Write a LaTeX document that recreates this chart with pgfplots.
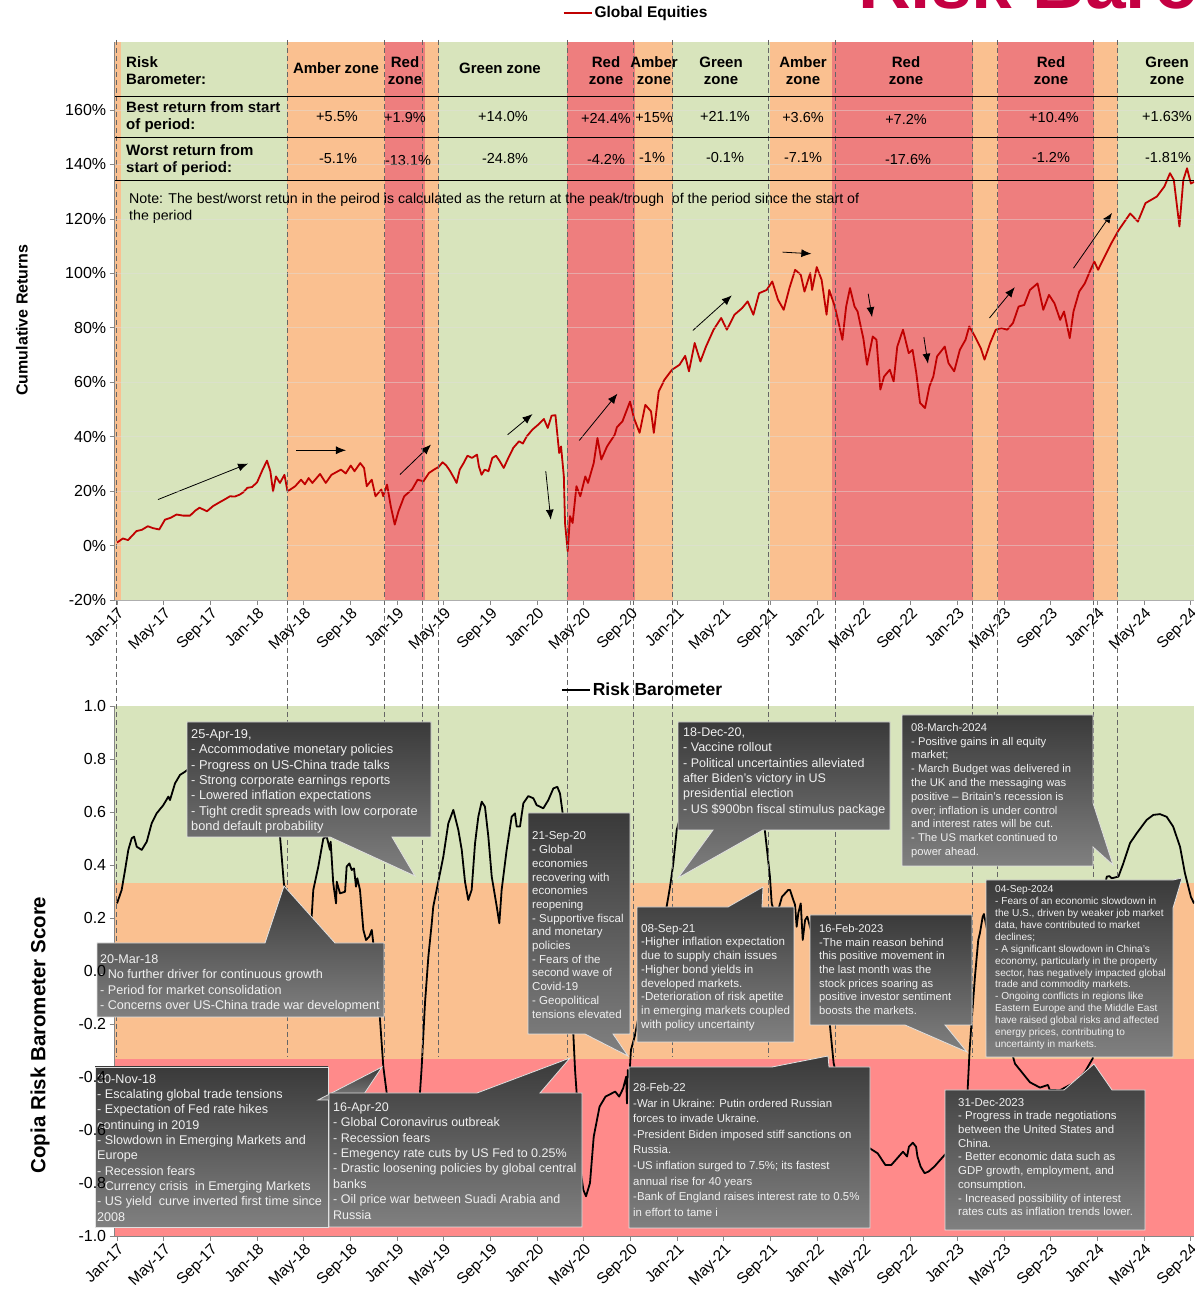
\documentclass[border=0pt]{standalone}
\usepackage{fontspec}
\setmainfont{Liberation Sans}
\usepackage{pgfplots}
\pgfplotsset{compat=1.18}
\usetikzlibrary{arrows.meta}

\definecolor{zgreen}{RGB}{216,228,188}
\definecolor{zamber}{RGB}{250,192,144}
\definecolor{zred}{RGB}{238,126,126}
\definecolor{bred}{RGB}{255,138,138}
\definecolor{eqred}{RGB}{192,0,0}
\definecolor{titlered}{RGB}{196,0,66}
\definecolor{cdark}{RGB}{58,58,58}
\definecolor{clight}{RGB}{128,128,128}
\definecolor{ctext}{RGB}{240,240,240}
\definecolor{axgray}{RGB}{134,134,134}

\newcommand{\fs}[2]{\fontsize{#1}{#2}\selectfont}
\newcommand{\callout}[4]{%
  \shade[top color=cdark, bottom color=clight, draw=white!88!black, line width=0.8pt] #1;
  \node[anchor=north west, inner sep=0pt, align=left, text=ctext, font=#3] at #2 {#4};}

\pgfplotsset{layers/mylayers/.define layer set={axis background,axis ticks,axis lines,main,axis grid,axis tick labels,axis descriptions,axis foreground}{
  grid style={/pgfplots/on layer=axis grid},
  tick style={/pgfplots/on layer=axis ticks},
  axis line style={/pgfplots/on layer=axis lines},
  label style={/pgfplots/on layer=axis descriptions},
  legend style={/pgfplots/on layer=axis descriptions},
  title style={/pgfplots/on layer=axis descriptions},
  ticklabel style={/pgfplots/on layer=axis tick labels},
}}

\pgfplotsset{common/.style={
  scale only axis, width=1079.5pt, xmin=-0.2, xmax=92.3,
  xtick={0,4,...,92},
  xticklabels={Jan-17,May-17,Sep-17,Jan-18,May-18,Sep-18,Jan-19,May-19,Sep-19,Jan-20,May-20,Sep-20,Jan-21,May-21,Sep-21,Jan-22,May-22,Sep-22,Jan-23,May-23,Sep-23,Jan-24,May-24,Sep-24},
  axis x line=bottom, axis y line=left, axis line style={-, axgray, line width=0.8pt},
  tick align=outside, major tick length=5pt, tick style={axgray, line width=0.8pt},
  xticklabel style={rotate=45, anchor=north east, inner sep=1pt, font=\fs{15.5}{18}},
  yticklabel style={font=\fs{16}{19}},
  legend style={draw=none, fill=none, inner sep=0pt},
  legend image code/.code={\draw[##1] (0pt,0pt) -- (28pt,0pt);},
}}
\tikzset{arr/.style={-{Latex[length=10pt,width=8pt]}, line width=0.8pt}}

\begin{document}
\begin{tikzpicture}[x=1pt,y=1pt]
\pgfplotsset{set layers=mylayers}

% ---------------- TOP AXIS ----------------
\begin{axis}[common, at={(114.67pt,690pt)}, anchor=south west, height=558pt,
  ymin=-20, ymax=185, ytick={-20,0,20,40,60,80,100,120,140,160},
  yticklabels={-20\%,0\%,20\%,40\%,60\%,80\%,100\%,120\%,140\%,160\%},
  ymajorgrids, grid style={white!75!gray, opacity=0.45, line width=0.6pt},
  legend style={at={(0.483,1.052)}, anchor=center, font=\bfseries\fs{15.5}{18}}]
\addplot[fill=zamber, draw=none, forget plot] coordinates {(-0.2,-20) (-0.2,185) (0.34,185) (0.34,-20)} -- cycle;
\addplot[fill=zgreen, draw=none, forget plot] coordinates {(0.34,-20) (0.34,185) (14.6,185) (14.6,-20)} -- cycle;
\addplot[fill=zamber, draw=none, forget plot] coordinates {(14.6,-20) (14.6,185) (23.0,185) (23.0,-20)} -- cycle;
\addplot[fill=zred, draw=none, forget plot] coordinates {(23.0,-20) (23.0,185) (26.35,185) (26.35,-20)} -- cycle;
\addplot[fill=zamber, draw=none, forget plot] coordinates {(26.35,-20) (26.35,185) (27.57,185) (27.57,-20)} -- cycle;
\addplot[fill=zgreen, draw=none, forget plot] coordinates {(27.57,-20) (27.57,185) (38.56,185) (38.56,-20)} -- cycle;
\addplot[fill=zred, draw=none, forget plot] coordinates {(38.56,-20) (38.56,185) (44.35,185) (44.35,-20)} -- cycle;
\addplot[fill=zamber, draw=none, forget plot] coordinates {(44.35,-20) (44.35,185) (47.64,185) (47.64,-20)} -- cycle;
\addplot[fill=zgreen, draw=none, forget plot] coordinates {(47.64,-20) (47.64,185) (55.96,185) (55.96,-20)} -- cycle;
\addplot[fill=zamber, draw=none, forget plot] coordinates {(55.96,-20) (55.96,185) (61.27,185) (61.27,-20)} -- cycle;
\addplot[fill=zred, draw=none, forget plot] coordinates {(61.27,-20) (61.27,185) (73.35,185) (73.35,-20)} -- cycle;
\addplot[fill=zamber, draw=none, forget plot] coordinates {(73.35,-20) (73.35,185) (75.5,185) (75.5,-20)} -- cycle;
\addplot[fill=zred, draw=none, forget plot] coordinates {(75.5,-20) (75.5,185) (83.7,185) (83.7,-20)} -- cycle;
\addplot[fill=zamber, draw=none, forget plot] coordinates {(83.7,-20) (83.7,185) (85.8,185) (85.8,-20)} -- cycle;
\addplot[fill=zgreen, draw=none, forget plot] coordinates {(85.8,-20) (85.8,185) (92.3,185) (92.3,-20)} -- cycle;

\addplot[eqred, line width=1.8pt, line join=round] coordinates {
(0,1.1) (0.51,2.6) (0.94,2.0) (1.30,3.6) (1.66,5.3) (2.14,5.8) (2.64,7.1) (3.08,6.4) (3.62,5.9) (4.11,9.5) (4.60,10.2) (5.10,11.4) (5.66,11.0) (6.26,11.0) (6.70,12.8) (7.07,13.9) (7.71,12.6) (8.23,14.5) (8.71,15.7) (9.25,17.0) (9.68,18.1) (10.10,18.0) (10.51,18.7) (10.80,19.5) (11.17,21.2) (11.57,21.5) (12.00,23.2) (12.48,27.9) (12.85,31.2) (13.14,27.3) (13.37,19.9) (13.62,25.4) (13.96,23.0) (14.35,26.0) (14.61,19.9) (15.27,21.8) (15.77,24.2) (16.10,22.5) (16.42,24.8) (16.74,23.0) (17.40,26.3) (17.89,23.0) (18.38,26.0) (19.19,27.9) (19.60,26.5) (20.03,29.4) (20.35,27.3) (20.84,30.3) (21.17,28.5) (21.40,21.8) (21.83,24.2) (22.15,18.1) (22.65,20.6) (22.81,18.1) (23.14,22.4) (23.46,14.4) (23.80,7.7) (24.12,12.6) (24.61,18.1) (25.28,20.6) (25.76,24.2) (26.26,23.6) (26.74,26.7) (27.20,28.0) (27.57,28.9) (27.90,30.6) (28.22,29.4) (28.55,27.3) (28.88,24.8) (29.10,23.0) (29.37,27.9) (29.70,30.3) (30.03,33.0) (30.42,32.2) (30.85,33.4) (31.01,29.1) (31.24,26.0) (31.50,27.9) (31.83,27.3) (32.16,32.2) (32.48,33.0) (32.81,30.9) (33.14,28.5) (33.47,31.6) (33.96,35.9) (34.45,38.3) (34.78,37.5) (35.11,40.1) (35.60,42.6) (36.09,44.4) (36.58,46.5) (36.91,43.2) (37.24,47.7) (37.57,47.9) (37.89,34.0) (38.05,36.4) (38.29,25.4) (38.39,8.3) (38.62,-2.1) (38.82,10.8) (39.04,8.3) (39.37,21.8) (39.70,18.1) (40.13,25.4) (40.36,23.0) (40.85,30.3) (41.17,39.5) (41.50,31.6) (41.99,36.4) (42.65,40.7) (42.84,43.5) (43.31,45.6) (43.96,52.9) (44.29,46.9) (44.78,41.4) (45.27,51.7) (45.76,49.3) (46.00,41.4) (46.42,56.6) (46.91,60.9) (47.56,64.6) (48.20,66.4) (48.69,69.7) (49.01,64.0) (49.50,74.4) (49.99,67.6) (50.47,73.1) (51.12,79.3) (51.77,83.6) (52.26,79.3) (52.91,84.8) (53.56,87.2) (54.04,89.7) (54.53,84.8) (55.02,92.7) (55.67,93.9) (56.15,97.0) (56.64,90.3) (57.13,86.6) (57.62,94.6) (58.11,101.3) (58.59,99.5) (58.91,93.3) (59.40,100.1) (59.56,93.9) (59.96,102.3) (60.38,97.6) (60.80,84.8) (61.03,93.9) (61.51,87.8) (61.84,81.7) (62.16,75.6) (62.48,87.8) (62.81,94.6) (63.20,87.8) (63.46,86.0) (63.79,79.3) (63.95,76.2) (64.27,66.4) (64.76,76.8) (65.08,75.6) (65.41,57.3) (65.73,62.1) (66.22,64.6) (66.55,60.3) (66.86,73.1) (67.35,79.3) (67.84,70.7) (68.17,71.9) (68.49,63.4) (68.81,52.4) (69.24,50.5) (69.62,58.5) (69.95,62.1) (70.27,69.5) (70.60,71.3) (70.93,73.1) (71.25,67.0) (71.74,64.0) (72.22,71.9) (72.71,75.6) (73.03,80.5) (73.52,76.8) (74.01,72.6) (74.34,68.3) (74.82,74.4) (75.30,79.3) (75.79,79.9) (76.28,79.3) (76.77,81.7) (77.26,87.8) (77.74,88.4) (78.23,93.9) (78.88,96.3) (79.37,86.6) (79.86,92.1) (80.33,89.0) (80.82,82.9) (81.15,86.0) (81.64,76.2) (81.96,86.0) (82.45,93.3) (82.93,96.3) (83.42,101.3) (83.75,104.3) (84.07,101.3) (84.56,105.6) (85.21,111.1) (85.52,113.5) (85.85,116.0) (86.82,122.0) (87.48,119.0) (88.13,125.8) (89.10,128.2) (89.75,131.9) (90.23,136.8) (90.56,134.3) (91.04,117.2) (91.37,134.3) (91.69,138.6) (92.02,133.0) (92.29,133.6)
};
\addlegendentry{Global Equities}

\draw[arr] (axis cs:3.51,16.9) -- (axis cs:11.23,30.1);
\draw[arr] (axis cs:15.34,35.0) -- (axis cs:19.62,35.0);
\draw[arr] (axis cs:24.25,26.1) -- (axis cs:26.91,37.1);
\draw[arr] (axis cs:33.47,40.7) -- (axis cs:35.6,48.3);
\draw[arr] (axis cs:36.74,27.3) -- (axis cs:37.17,9.5);
\draw[arr] (axis cs:39.61,38.6) -- (axis cs:42.88,55.8);
\draw[arr] (axis cs:49.34,79.0) -- (axis cs:52.68,91.9);
\draw[arr] (axis cs:57.03,107.8) -- (axis cs:59.5,107.2);
\draw[arr] (axis cs:64.37,92.5) -- (axis cs:64.7,83.9);
\draw[arr] (axis cs:69.14,76.6) -- (axis cs:69.49,66.8);
\draw[arr] (axis cs:74.76,83.6) -- (axis cs:76.93,94.9);
\draw[arr] (axis cs:81.96,101.9) -- (axis cs:85.26,122.2);
\end{axis}

% ---------------- BOTTOM AXIS ----------------
\begin{axis}[common, at={(114.67pt,54pt)}, anchor=south west, height=530pt,
  ymin=-1, ymax=1, ytick={-1,-0.8,-0.6,-0.4,-0.2,0,0.2,0.4,0.6,0.8,1},
  yticklabels={-1.0,-0.8,-0.6,-0.4,-0.2,0.0,0.2,0.4,0.6,0.8,1.0},
  legend style={at={(0.489,1.03)}, anchor=center, font=\bfseries\fs{17.5}{20}}]
\addplot[fill=zgreen, draw=none, forget plot] coordinates {(-0.2,0.3333) (-0.2,1) (92.3,1) (92.3,0.3333)} -- cycle;
\addplot[fill=zamber, draw=none, forget plot] coordinates {(-0.2,-0.3333) (-0.2,0.3333) (92.3,0.3333) (92.3,-0.3333)} -- cycle;
\addplot[fill=bred, draw=none, forget plot] coordinates {(-0.2,-1) (-0.2,-0.3333) (92.3,-0.3333) (92.3,-1)} -- cycle;
\addplot[black, line width=1.8pt, line join=round] coordinates {
(0,0.255) (0.40,0.306) (0.69,0.381) (0.97,0.457) (1.26,0.501) (1.46,0.507) (1.69,0.469) (2.12,0.457) (2.55,0.488) (2.97,0.557) (3.40,0.595) (3.97,0.626) (4.40,0.658) (4.54,0.645) (4.97,0.708) (5.40,0.740) (5.83,0.752) (6.68,0.78) (7.97,0.82) (9.25,0.80) (10.54,0.75) (11.83,0.68) (12.94,0.60) (13.97,0.507) (14.31,0.325) (15.25,0.22) (16.1,0.18) (16.68,0.205) (16.82,0.306) (17.25,0.394) (17.68,0.500) (17.97,0.507) (18.25,0.457) (18.31,0.488) (18.53,0.331) (18.77,0.255) (18.83,0.337) (19.11,0.293) (19.54,0.299) (19.68,0.394) (19.91,0.406) (20.11,0.381) (20.31,0.387) (20.48,0.318) (20.59,0.350) (20.82,0.306) (21.11,0.155) (21.34,0.117) (21.62,0.130) (21.83,0.155) (22.11,0.05) (22.54,-0.185) (22.82,-0.361) (23.11,-0.46) (23.56,-0.6) (24.25,-0.68) (24.94,-0.66) (25.54,-0.55) (25.96,-0.46) (26.11,-0.361) (26.39,-0.122) (26.68,0.054) (26.97,0.180) (27.10,0.243) (27.53,0.337) (27.96,0.431) (28.39,0.557) (28.82,0.608) (29.25,0.532) (29.54,0.457) (29.82,0.337) (30.10,0.268) (30.39,0.306) (30.68,0.482) (30.96,0.582) (31.25,0.639) (31.53,0.620) (31.82,0.507) (32.11,0.356) (32.54,0.243) (32.76,0.180) (32.96,0.306) (33.39,0.457) (33.82,0.582) (34.10,0.595) (34.25,0.545) (34.53,0.545) (34.82,0.633) (35.24,0.660) (35.67,0.652) (35.96,0.626) (36.53,0.614) (36.96,0.645) (37.39,0.689) (37.73,0.695) (37.96,0.670) (38.19,0.595) (38.47,0.3) (38.82,-0.05) (39.10,-0.235) (39.25,-0.374) (39.39,-0.462) (39.67,-0.738) (39.96,-0.826) (40.19,-0.850) (40.53,-0.800) (40.85,-0.625) (41.35,-0.512) (41.86,-0.474) (42.69,-0.455) (43.03,-0.474) (43.37,-0.443) (43.63,-0.399) (43.70,-0.500) (43.77,-0.374) (43.9,-0.40) (44.04,-0.298) (44.37,-0.245) (45.23,-0.05) (46.08,0.1) (46.68,0.2) (47.10,0.243) (47.39,0.318) (47.67,0.406) (47.96,0.532) (48.67,0.65) (49.95,0.72) (51.24,0.76) (52.53,0.72) (53.81,0.70) (54.84,0.62) (55.51,0.532) (55.67,0.469) (55.95,0.356) (56.10,0.255) (56.47,0.20) (56.98,0.28) (57.52,0.306) (57.67,0.306) (57.95,0.268) (58.10,0.250) (58.24,0.167) (58.38,0.218) (58.59,0.255) (58.76,0.117) (58.96,0.192) (59.15,0.205) (59.79,0.10) (60.39,0.0) (60.9,-0.15) (61.10,-0.210) (61.24,-0.273) (61.41,-0.348) (61.95,-0.45) (62.81,-0.58) (63.67,-0.64) (64.50,-0.669) (65.18,-0.688) (65.84,-0.732) (66.35,-0.732) (66.85,-0.707) (67.35,-0.682) (67.70,-0.700) (67.86,-0.663) (68.19,-0.648) (68.47,-0.663) (68.59,-0.700) (68.86,-0.738) (69.20,-0.763) (69.54,-0.757) (70.04,-0.738) (70.54,-0.713) (71.05,-0.688) (71.81,-0.62) (72.41,-0.53) (72.89,-0.449) (73.06,-0.298) (73.24,-0.185) (73.52,-0.020) (73.80,0.117) (73.94,0.142) (74.18,0.205) (74.29,0.215) (74.8,0.1) (75.66,-0.15) (76.95,-0.35) (78.23,-0.42) (79.09,-0.44) (79.77,-0.430) (79.93,-0.449) (80.8,-0.45) (82.09,-0.42) (82.95,-0.38) (83.61,-0.33) (83.98,-0.1) (84.32,0.15) (84.58,0.3) (84.81,0.356) (85.03,0.358) (85.24,0.350) (85.81,0.356) (86.23,0.406) (86.80,0.482) (87.38,0.520) (88.23,0.570) (88.80,0.589) (89.37,0.592) (89.94,0.582) (90.50,0.545) (91.09,0.469) (91.51,0.369) (92.02,0.280) (92.29,0.255)
};
\addlegendentry{Risk Barometer}
\end{axis}

% ---------------- dashed zone boundaries ----------------
\foreach \xx in {116,287,384,422,438.5,567.5,633.5,672.5,768.5,835,972.5,997.5,1093,1117.5}
  \draw[dash pattern=on 5pt off 3pt, black!60, line width=0.8pt] (\xx,1290-40) -- (\xx,1290-1057);

% ---------------- table in top chart ----------------
\draw[black, line width=0.9pt] (115,1290-96) -- (1194,1290-96);
\draw[black, line width=0.9pt] (115,1290-137) -- (1194,1290-137);
\draw[black, line width=0.9pt] (115,1290-180) -- (1194,1290-180);

\begin{scope}[every node/.style={inner sep=0pt, font=\bfseries\fs{15}{17}, align=center}]
\node[anchor=west, align=left] at (126,1290-71) {Risk\\Barometer:};
\node[anchor=west, align=left] at (126,1290-117) {Best return from start\\of period:};
\node[anchor=west, align=left] at (126,1290-160) {Worst return from\\start of period:};
\node at (336,1290-68.5) {Amber zone};
\node at (405,1290-71) {Red\\zone};
\node at (500,1290-68.5) {Green zone};
\node at (606,1290-71) {Red\\zone};
\node at (654,1290-71) {Amber\\zone};
\node at (721,1290-71) {Green\\zone};
\node at (803,1290-71) {Amber\\zone};
\node at (906,1290-71) {Red\\zone};
\node at (1051,1290-71) {Red\\zone};
\node at (1167,1290-71) {Green\\zone};
\end{scope}
\begin{scope}[every node/.style={inner sep=0pt, font=\fs{14.5}{17}}]
\node at (337,1290-117) {+5.5\%};
\node at (405,1290-118) {+1.9\%};
\node at (503,1290-117) {+14.0\%};
\node at (606,1290-118) {+24.4\%};
\node at (654,1290-118) {+15\%};
\node at (725,1290-116) {+21.1\%};
\node at (803,1290-118) {+3.6\%};
\node at (906,1290-119) {+7.2\%};
\node at (1054,1290-118) {+10.4\%};
\node at (1167,1290-117) {+1.63\%};
\node at (338,1290-159) {-5.1\%};
\node at (408,1290-161) {-13.1\%};
\node at (505,1290-159) {-24.8\%};
\node at (606,1290-159) {-4.2\%};
\node at (652,1290-158) {-1\%};
\node at (725,1290-158) {-0.1\%};
\node at (803,1290-158) {-7.1\%};
\node at (908,1290-160) {-17.6\%};
\node at (1051,1290-157) {-1.2\%};
\node at (1168,1290-158) {-1.81\%};
\end{scope}
\node[anchor=north west, inner sep=0pt, align=left, font=\fs{14.2}{17}] at (129,1290-193) {Note: The best/worst retun in the peirod is calculated as the return at the peak/trough\ \ of the period since the start of\\the period};

% ---------------- callouts ----------------
\callout{(187,1290-722) -- (431,1290-722) -- (431,1290-837) -- (392,1290-837) -- (415,1290-876) -- (330,1290-837) -- (187,1290-837) -- cycle}
  {(191,1290-729.4)}{\fs{12.8}{15.3}}
  {25-Apr-19,\\- Accommodative monetary policies\\- Progress on US-China trade talks\\- Strong corporate earnings reports\\- Lowered inflation expectations\\- Tight credit spreads with low corporate\\bond default probability}
\callout{(97,1290-943) -- (265,1290-943) -- (284,1290-886) -- (335,1290-943) -- (384,1290-943) -- (384,1290-1017) -- (97,1290-1017) -- cycle}
  {(100,1290-954.4)}{\fs{12.6}{15.4}}
  {20-Mar-18\\- No further driver for continuous growth\\- Period for market consolidation\\- Concerns over US-China trade war development}
\callout{(95,1290-1067) -- (328,1290-1067) -- (328,1290-1227) -- (95,1290-1227) -- cycle}
  {(97,1290-1074.4)}{\fs{12.6}{15.3}}
  {30-Nov-18\\- Escalating global trade tensions\\- Expectation of Fed rate hikes\\continuing in 2019\\- Slowdown in Emerging Markets and\\Europe\\- Recession fears\\- Currency crisis\ \ in Emerging Markets\\- US yield\ \ curve inverted first time since\\2008}
\shade[top color=cdark, bottom color=clight, draw=white!88!black, line width=0.8pt] (318,1290-1100) -- (382,1290-1067) -- (360,1290-1100) -- cycle;
\callout{(329,1290-1093) -- (477,1290-1093) -- (570,1290-1058) -- (540,1290-1093) -- (582,1290-1093) -- (582,1290-1227) -- (329,1290-1227) -- cycle}
  {(333,1290-1102.4)}{\fs{12.5}{15.4}}
  {16-Apr-20\\- Global Coronavirus outbreak\\- Recession fears\\- Emegency rate cuts by US Fed to 0.25\%\\- Drastic loosening policies by global central\\banks\\- Oil price war between Suadi Arabia and\\Russia}
\callout{(528,1290-813) -- (630,1290-813) -- (630,1290-1034) -- (613,1290-1034) -- (628,1290-1056) -- (585,1290-1034) -- (528,1290-1034) -- cycle}
  {(532,1290-831.7)}{\fs{11.5}{13.7}}
  {21-Sep-20\\- Global\\economies\\recovering with\\economies\\reopening\\- Supportive fiscal\\and monetary\\policies\\- Fears of the\\second wave of\\Covid-19\\- Geopolitical\\tensions elevated}
\callout{(678,1290-722) -- (890,1290-722) -- (890,1290-830) -- (763,1290-830) -- (678,1290-878) -- (713,1290-830) -- (678,1290-830) -- cycle}
  {(683,1290-727.4)}{\fs{12.5}{15.4}}
  {18-Dec-20,\\- Vaccine rollout\\- Political uncertainties alleviated\\after Biden's victory in US\\presidential election\\- US \$900bn fiscal stimulus package}
\callout{(637,1290-907) -- (728,1290-907) -- (763,1290-887) -- (762,1290-907) -- (794,1290-907) -- (794,1290-1042) -- (637,1290-1042) -- cycle}
  {(641,1290-924)}{\fs{11.6}{13.7}}
  {08-Sep-21\\-Higher inflation expectation\\due to supply chain issues\\-Higher bond yields in\\developed markets.\\-Deterioration of risk apetite\\in emerging markets coupled\\with policy uncertainty}
\callout{(629,1290-1067) -- (772,1290-1067) -- (828,1290-1056) -- (829,1290-1067) -- (870,1290-1067) -- (870,1290-1228) -- (629,1290-1228) -- cycle}
  {(633,1290-1083)}{\fs{11.4}{15.6}}
  {28-Feb-22\\-War in Ukraine: Putin ordered Russian\\forces to invade Ukraine.\\-President Biden imposed stiff sanctions on\\Russia.\\-US inflation surged to 7.5\%; its fastest\\annual rise for 40 years\\-Bank of England raises interest rate to 0.5\%\\in effort to tame i}
\callout{(810,1290-915) -- (972,1290-915) -- (972,1290-1025) -- (945,1290-1025) -- (967,1290-1052) -- (905,1290-1025) -- (810,1290-1025) -- cycle}
  {(819,1290-924)}{\fs{11.2}{13.7}}
  {16-Feb-2023\\-The main reason behind\\this positive movement in\\the last month was the\\stock prices soaring as\\positive investor sentiment\\boosts the markets.}
\callout{(902,1290-715) -- (1093,1290-715) -- (1093,1290-803) -- (1113,1290-865) -- (1093,1290-847) -- (1093,1290-866) -- (902,1290-866) -- cycle}
  {(911,1290-723)}{\fs{11.2}{13.8}}
  {08-March-2024\\- Positive gains in all equity\\market;\\- March Budget was delivered in\\the UK and the messaging was\\positive – Britain’s recession is\\over; inflation is under control\\and interest rates will be cut.\\- The US market continued to\\power ahead.}
\callout{(986,1290-880) -- (1173,1290-880) -- (1182,1290-878) -- (1173,1290-908) -- (1173,1290-1057) -- (986,1290-1057) -- cycle}
  {(995,1290-885.5)}{\fs{10.1}{11.9}}
  {04-Sep-2024\\- Fears of an economic slowdown in\\the U.S., driven by weaker job market\\data, have contributed to market\\declines;\\- A significant slowdown in China's\\economy, particularly in the property\\sector, has negatively impacted global\\trade and commodity markets.\\- Ongoing conflicts in regions like\\Eastern Europe and the Middle East\\have raised global risks and affected\\energy prices, contributing to\\uncertainty in markets.}
\callout{(945,1290-1090) -- (1064,1290-1090) -- (1094,1290-1064) -- (1112,1290-1090) -- (1145,1290-1090) -- (1145,1290-1230) -- (945,1290-1230) -- cycle}
  {(958,1290-1098)}{\fs{11.4}{13.7}}
  {31-Dec-2023\\- Progress in trade negotiations\\between the United States and\\China.\\- Better economic data such as\\GDP growth, employment, and\\consumption.\\- Increased possibility of interest\\rates cuts as inflation trends lower.}

% ---------------- axis titles and heading ----------------
\node[rotate=90, font=\bfseries\fs{16}{19}, inner sep=0pt] at (22,1290-320) {Cumulative Returns};
\node[rotate=90, font=\bfseries\fs{20.5}{24}, inner sep=0pt] at (40,1290-1035) {Copia Risk Barometer Score};
\node[anchor=base west, inner sep=0pt, font=\bfseries\fs{73}{80}, text=titlered] at (858,1290-9) {Risk Barometer};

\pgfresetboundingbox
\useasboundingbox (0,0) rectangle (1194,1290);
\end{tikzpicture}
\end{document}
